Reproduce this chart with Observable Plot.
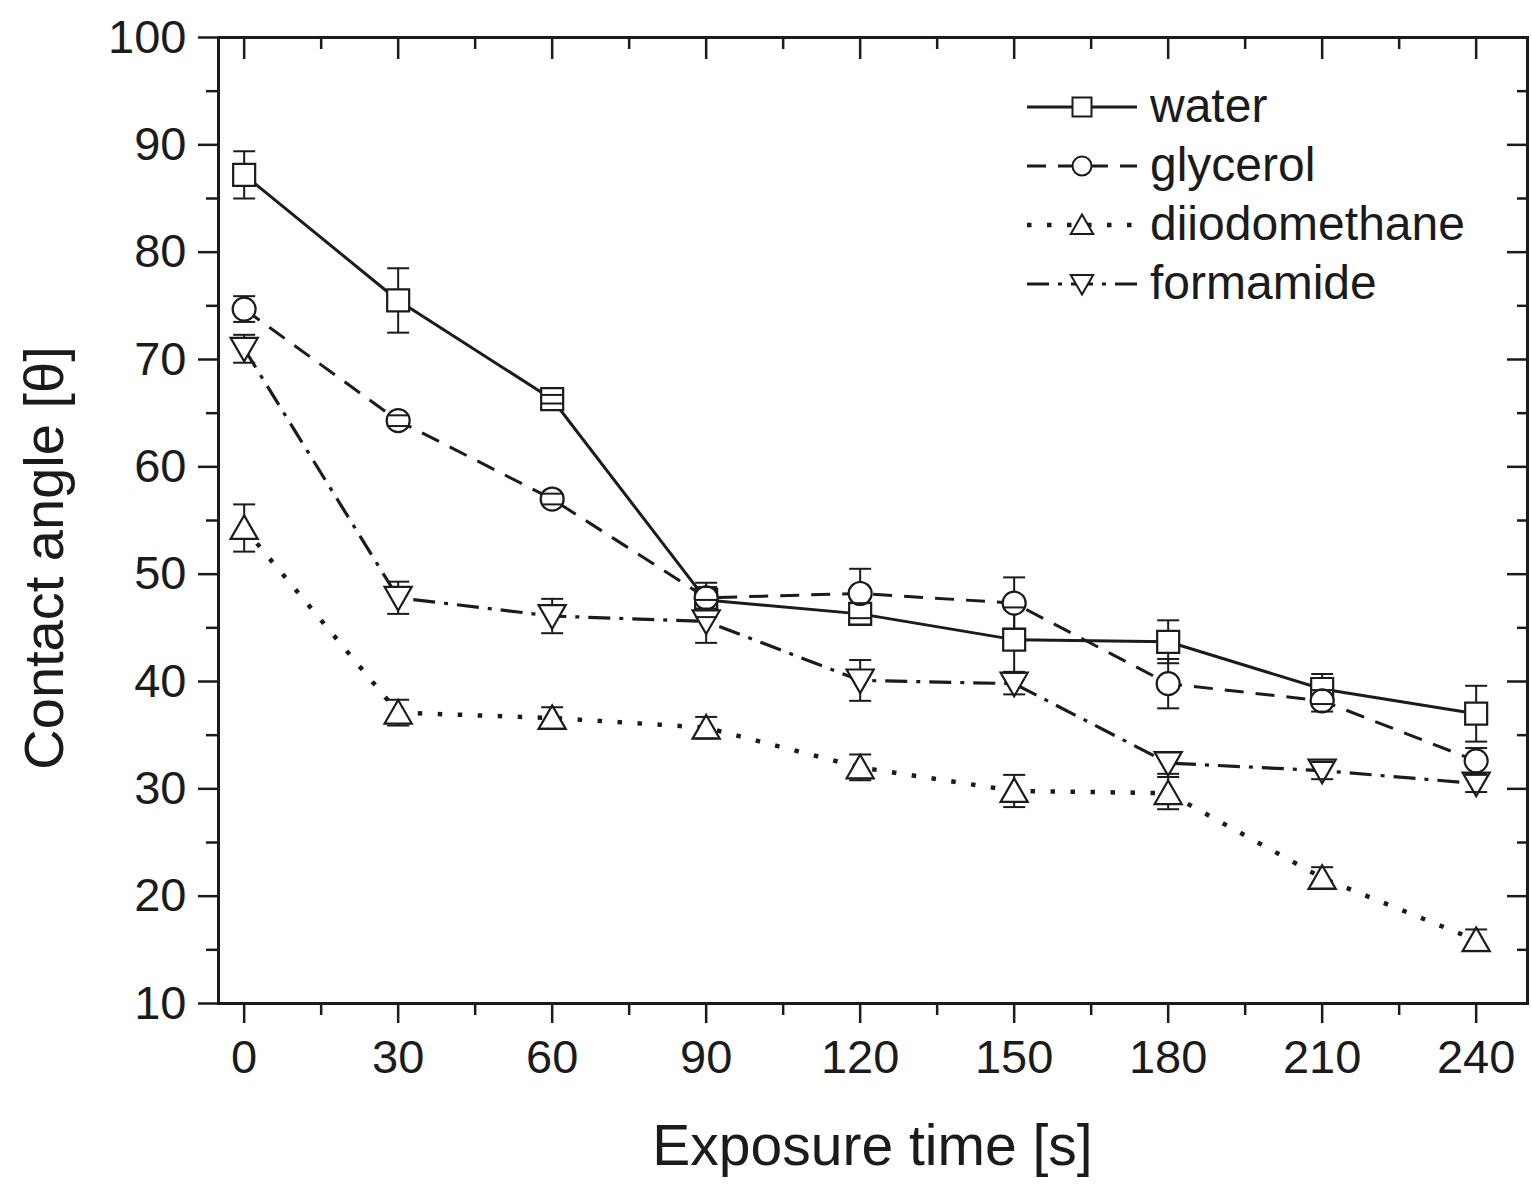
<!DOCTYPE html>
<html>
<head>
<meta charset="utf-8">
<script src="https://cdn.jsdelivr.net/npm/d3@7"></script>
<script src="https://cdn.jsdelivr.net/npm/@observablehq/plot@0.6"></script>
<style>
  body { margin: 0; background: #fff; }
  #chart svg { display: block; }
</style>
</head>
<body>
<div id="chart"></div>
<script>
// ---- Data ----
const times = [0, 30, 60, 90, 120, 150, 180, 210, 240];
const seriesNames = ["water", "glycerol", "diiodomethane", "formamide"];
const water = [87.2, 75.5, 66.3, 47.6, 46.3, 43.9, 43.7, 39.3, 37.0];
const waterErr = [2.2, 3.0, 0.4, 1.6, 1.0, 3.0, 2.0, 1.4, 2.6];
const glycerol = [74.7, 64.3, 57.0, 47.8, 48.2, 47.3, 39.8, 38.2, 32.6];
const glycerolErr = [1.2, 0.5, 0.5, 1.0, 2.3, 2.4, 2.3, 1.0, 1.2];
const diiodomethane = [54.3, 37.1, 36.6, 35.7, 32.0, 29.8, 29.6, 21.7, 15.9];
const diiodomethaneErr = [2.2, 1.2, 1.0, 1.0, 1.2, 1.5, 1.5, 1.0, 1.0];
const formamide = [71.0, 47.8, 46.1, 45.6, 40.1, 39.8, 32.4, 31.7, 30.5];
const formamideErr = [1.3, 1.5, 1.6, 2.0, 1.9, 1.0, 1.0, 0.8, 0.8];
const xTicks = [0, 30, 60, 90, 120, 150, 180, 210, 240];
const xMinorTicks = [15, 45, 75, 105, 135, 165, 195, 225];
const yTicks = [10, 20, 30, 40, 50, 60, 70, 80, 90, 100];
const yMinorTicks = [15, 25, 35, 45, 55, 65, 75, 85, 95];
const xLabel = "Exposure time [s]";
const yLabel = "Contact angle [θ]";

// ---- Build table ----
const values = {water, glycerol, diiodomethane, formamide};
const errors = {water: waterErr, glycerol: glycerolErr, diiodomethane: diiodomethaneErr, formamide: formamideErr};
const rows = [];
for (const s of seriesNames) times.forEach((t, i) => rows.push({series: s, t, v: values[s][i], e: errors[s][i]}));

// ---- Symbols ----
const rad = size => Math.sqrt(size / Math.PI);
const sqSym = {draw(c, size) { const r = rad(size); c.rect(-r, -r, 2 * r, 2 * r); }};
const circSym = {draw(c, size) { const r = rad(size); c.moveTo(r, 0); c.arc(0, 0, r, 0, 2 * Math.PI); }};
const triUpSym = {draw(c, size) { const r = rad(size); c.moveTo(0, -r * 1.1); c.lineTo(r * 1.18, r * 0.95); c.lineTo(-r * 1.18, r * 0.95); c.closePath(); }};
const triDownSym = {draw(c, size) { const r = rad(size); c.moveTo(0, r * 1.1); c.lineTo(r * 1.18, -r * 0.95); c.lineTo(-r * 1.18, -r * 0.95); c.closePath(); }};
const capSym = {draw(c, size) { const r = rad(size); c.moveTo(-r, 0); c.lineTo(r, 0); }};

const ink = "#1b1b1b";
const style = {
  water: {dash: null, width: 3, symbol: sqSym, r: 11},
  glycerol: {dash: "19,12", width: 3, symbol: circSym, r: 11.5},
  diiodomethane: {dash: "4.5,15.5", width: 4.5, symbol: triUpSym, r: 11.5},
  formamide: {dash: "22,9,4,9", width: 3.2, symbol: triDownSym, r: 11.5}
};

const marks = [
  Plot.axisX({anchor: "bottom", ticks: xTicks, tickSize: 20, tickPadding: 16, fontSize: 47, strokeWidth: 2.5, label: null}),
  Plot.axisX({anchor: "bottom", ticks: xMinorTicks, tickSize: 12, strokeWidth: 2.5, text: null, label: null}),
  Plot.axisX({anchor: "top", ticks: xTicks, tickSize: -21, strokeWidth: 2.5, text: null, label: null}),
  Plot.axisX({anchor: "top", ticks: xMinorTicks, tickSize: -11, strokeWidth: 2.5, text: null, label: null}),
  Plot.axisY({anchor: "left", ticks: yTicks, tickSize: 20, tickPadding: 12, fontSize: 47, strokeWidth: 2.5, label: null}),
  Plot.axisY({anchor: "left", ticks: yMinorTicks, tickSize: 12, strokeWidth: 2.5, text: null, label: null}),
  Plot.axisY({anchor: "right", ticks: yTicks, tickSize: -21, strokeWidth: 2.5, text: null, label: null}),
  Plot.axisY({anchor: "right", ticks: yMinorTicks, tickSize: -11, strokeWidth: 2.5, text: null, label: null})
];

for (const s of seriesNames) {
  marks.push(Plot.line(rows.filter(d => d.series === s), {x: "t", y: "v", stroke: ink, strokeWidth: style[s].width, strokeDasharray: style[s].dash, strokeLinecap: "butt"}));
}
marks.push(Plot.ruleX(rows, {x: "t", y1: d => d.v - d.e, y2: d => d.v + d.e, stroke: ink, strokeWidth: 2}));
for (const s of seriesNames) {
  marks.push(Plot.dot(rows.filter(d => d.series === s), {x: "t", y: "v", symbol: style[s].symbol, r: style[s].r, fill: "white", stroke: ink, strokeWidth: 2.2}));
}
marks.push(Plot.dot(rows, {x: "t", y: d => d.v + d.e, symbol: capSym, r: 11, stroke: ink, strokeWidth: 2}));
marks.push(Plot.dot(rows, {x: "t", y: d => d.v - d.e, symbol: capSym, r: 11, stroke: ink, strokeWidth: 2}));
marks.push(Plot.frame({stroke: ink, strokeWidth: 3}));

const plot = Plot.plot({
  width: 1532,
  height: 1185,
  marginLeft: 218,
  marginTop: 37,
  marginRight: 5,
  marginBottom: 182,
  x: {domain: [-5, 250]},
  y: {domain: [10, 100]},
  style: {fontFamily: "'Liberation Sans', Arial, sans-serif", color: ink, background: "white"},
  marks
});

// ---- Axis titles & legend ----
const svgSel = d3.select(plot);
const xr = plot.scale("x").range;
const yr = plot.scale("y").range;
const pLeft = Math.min(...xr), pRight = Math.max(...xr);
const pTop = Math.min(...yr), pBottom = Math.max(...yr);

svgSel.append("text")
  .attr("x", (pLeft + pRight) / 2).attr("y", pBottom + 162)
  .attr("text-anchor", "middle").attr("font-size", 57).attr("fill", ink)
  .attr("font-family", "'Liberation Sans', Arial, sans-serif")
  .text(xLabel);

svgSel.append("text")
  .attr("transform", `translate(${pLeft - 155},${(pTop + pBottom) / 2 + 38}) rotate(-90)`)
  .attr("text-anchor", "middle").attr("font-size", 56).attr("fill", ink)
  .attr("font-family", "'Liberation Sans', Arial, sans-serif")
  .text(yLabel);

const lg = svgSel.append("g").attr("transform", `translate(${pRight - 500},${pTop + 70})`);
const symbolPath = (sym, r) => { const p = d3.path(); sym.draw(p, Math.PI * r * r); return p.toString(); };
seriesNames.forEach((s, i) => {
  const g = lg.append("g").attr("transform", `translate(0,${i * 59})`);
  const ln = g.append("line").attr("x1", 0).attr("x2", 110).attr("y1", 0).attr("y2", 0)
    .attr("stroke", ink).attr("stroke-width", style[s].width);
  if (style[s].dash) ln.attr("stroke-dasharray", style[s].dash);
  g.append("path").attr("d", symbolPath(style[s].symbol, 9.5)).attr("transform", "translate(55,0)")
    .attr("fill", "white").attr("stroke", ink).attr("stroke-width", 2);
  g.append("text").attr("x", 123).attr("y", 15).attr("font-size", 48).attr("fill", ink)
    .attr("text-anchor", "start")
    .attr("font-family", "'Liberation Sans', Arial, sans-serif").text(s);
});

document.getElementById("chart").appendChild(plot);
</script>
</body>
</html>
